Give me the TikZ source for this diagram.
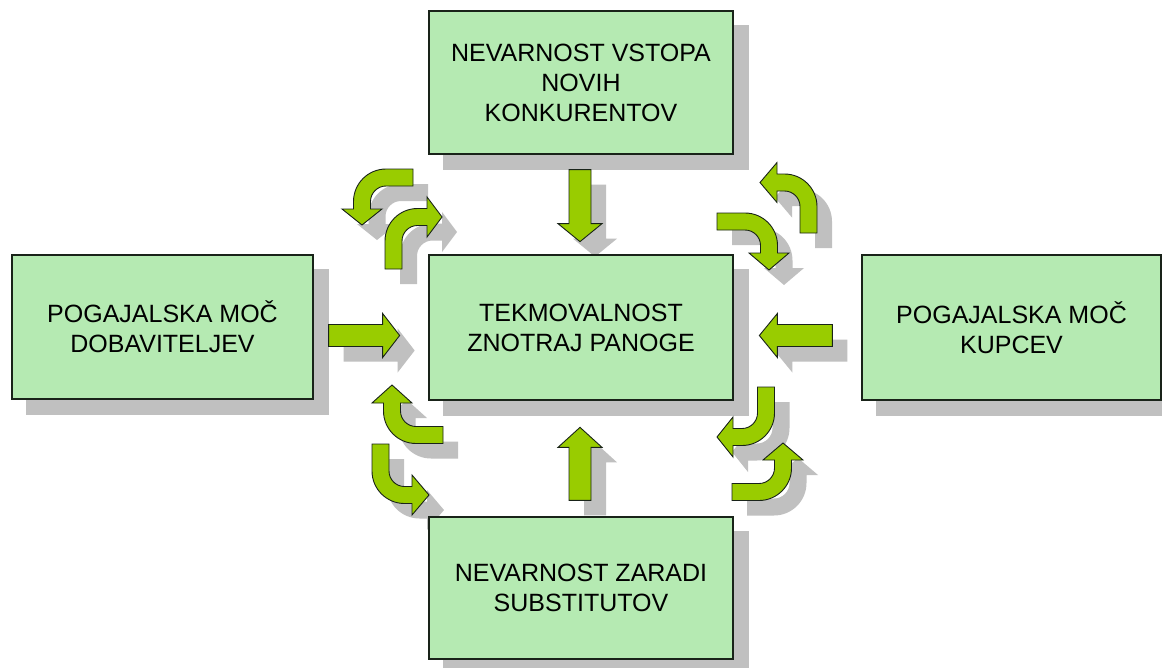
\documentclass[tikz,border=0pt]{standalone}
\usepackage{fontspec}
\setmainfont{Liberation Sans}
\usetikzlibrary{backgrounds,calc}
\definecolor{boxfill}{RGB}{181,234,178}
\definecolor{arrowgreen}{RGB}{153,204,0}
\definecolor{shadowc}{RGB}{192,192,192}
\definecolor{edgec}{RGB}{25,35,25}
\newcommand\bw{8.5}
\newcommand\hw{20}
\newcommand\sw{11}
\newcommand\shw{22}
% bent block arrow outline: first leg along local x, turning toward local y
\newcommand\bentpath[4]{%
 (0,{-\bw}) -- ({#1},{-\bw})
 .. controls ({#1+0.5523*(#2+\bw)},{-\bw}) and ({#1+#2+\bw},{#2-0.5523*(#2+\bw)}) .. ({#1+#2+\bw},{#2})
 -- ({#1+#2+\bw},{#2+#3}) -- ({#1+#2+\hw},{#2+#3}) -- ({#1+#2},{#2+#3+#4})
 -- ({#1+#2-\hw},{#2+#3}) -- ({#1+#2-\bw},{#2+#3}) -- ({#1+#2-\bw},{#2})
 .. controls ({#1+#2-\bw},{#2-0.5523*(#2-\bw)}) and ({#1+0.5523*(#2-\bw)},{\bw}) .. ({#1},{\bw})
 -- (0,{\bw}) -- cycle}
\newcommand\straightpath[2]{%
 (0,{-\sw}) -- ({#1},{-\sw}) -- ({#1},{-\shw}) -- ({#1+#2},0) -- ({#1},{\shw}) -- ({#1},{\sw}) -- (0,{\sw}) -- cycle}
\newcommand\bentarrow[7]{%
 \begin{scope}[on background layer]
  \begin{scope}[shift={#1}, shift={(15,15)}, x={#2}, y={#3}]
   \fill[shadowc] \bentpath{#4}{#5}{#6}{#7};
  \end{scope}
 \end{scope}
 \begin{scope}[shift={#1}, x={#2}, y={#3}]
  \draw[blockarrow] \bentpath{#4}{#5}{#6}{#7};
 \end{scope}}
\newcommand\blockarrow[5]{%
 \begin{scope}[on background layer]
  \begin{scope}[shift={#1}, shift={(15,15)}, x={#2}, y={#3}]
   \fill[shadowc] \straightpath{#4}{#5};
  \end{scope}
 \end{scope}
 \begin{scope}[shift={#1}, x={#2}, y={#3}]
  \draw[blockarrow] \straightpath{#4}{#5};
 \end{scope}}
\tikzset{
 box/.style={draw=edgec, line width=1.3pt, fill=boxfill, align=center, inner sep=0pt,
   font=\fontsize{25}{30}\selectfont, text=black},
 blockarrow/.style={fill=arrowgreen, draw=edgec, line width=0.9pt, line join=miter}
}
\begin{document}
\begin{tikzpicture}[x=1pt,y=-1pt]
\useasboundingbox (0,0) rectangle (1162,667);
\begin{scope}[on background layer]
 \fill[white] (0,0) rectangle (1162,667);
\end{scope}
% boxes
\node[box, minimum width=304pt, minimum height=143pt] (top) at (581,82.5) {NEVARNOST VSTOPA\\NOVIH\\KONKURENTOV};
\node[box, minimum width=301pt, minimum height=144pt] (left) at (162.5,327) {POGAJALSKA MOČ\\DOBAVITELJEV};
\node[box, minimum width=304pt, minimum height=145pt] (center) at (581,327.5) {TEKMOVALNOST\\ZNOTRAJ PANOGE};
\node[box, minimum width=299pt, minimum height=145pt] (right) at (1011.5,327.5) {POGAJALSKA MOČ\\KUPCEV};
\node[box, minimum width=304pt, minimum height=142pt] (bottom) at (581,588) {NEVARNOST ZARADI\\SUBSTITUTOV};
% box shadows
\begin{scope}[on background layer]
 \fill[shadowc] ($(top.north west)+(15,15)$) rectangle ($(top.south east)+(15,15)$);
 \fill[shadowc] ($(left.north west)+(15,15)$) rectangle ($(left.south east)+(15,15)$);
 \fill[shadowc] ($(center.north west)+(15,15)$) rectangle ($(center.south east)+(15,15)$);
 \fill[shadowc] ($(right.north west)+(15,15)$) rectangle ($(right.south east)+(1,15)$);
 \fill[shadowc] ($(bottom.north west)+(15,15)$) rectangle ($(bottom.south east)+(15,8)$);
\end{scope}
% straight block arrows towards the centre
\blockarrow{($(left.east)+(15,8.5)$)}{(1pt,0pt)}{(0pt,-1pt)}{54}{17}
\blockarrow{($(right.west)+(-29,8)$)}{(-1pt,0pt)}{(0pt,-1pt)}{55}{18}
\blockarrow{($(top.south)+(-1,15)$)}{(0pt,-1pt)}{(1pt,0pt)}{54}{18}
\blockarrow{($(bottom.north)+(-1,-16)$)}{(0pt,1pt)}{(1pt,0pt)}{53}{20}
% curved block arrows
\bentarrow{(413,177.5)}{(-1pt,0pt)}{(0pt,-1pt)}{27}{24}{7.5}{16}
\bentarrow{(393.5,269)}{(0pt,1pt)}{(1pt,0pt)}{28}{24}{9.5}{15}
\bentarrow{(808.5,233)}{(0pt,1pt)}{(-1pt,0pt)}{26.5}{24}{7.5}{17}
\bentarrow{(717,221.5)}{(1pt,0pt)}{(0pt,-1pt)}{28}{24}{7.5}{17}
\bentarrow{(443,435)}{(-1pt,0pt)}{(0pt,1pt)}{27}{24}{8}{18}
\bentarrow{(380.5,444)}{(0pt,-1pt)}{(1pt,0pt)}{27}{24}{7.5}{17}
\bentarrow{(766,387)}{(0pt,-1pt)}{(-1pt,0pt)}{26}{24}{9}{16}
\bentarrow{(732,492)}{(1pt,0pt)}{(0pt,1pt)}{27}{24}{8}{17}
\end{tikzpicture}
\end{document}
